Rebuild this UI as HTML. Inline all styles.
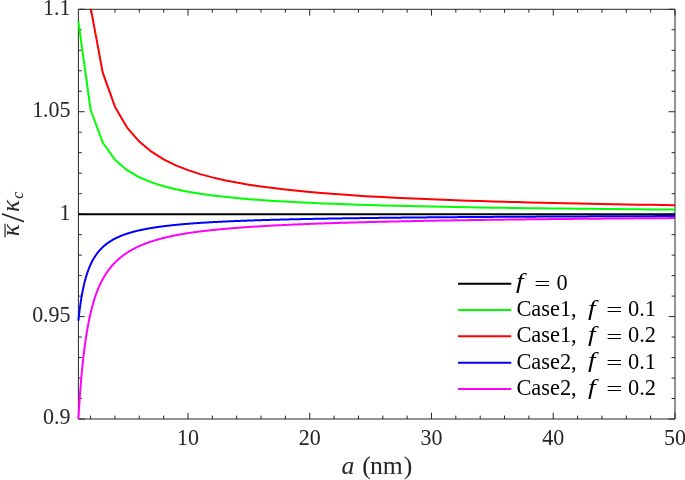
<!DOCTYPE html>
<html><head><meta charset="utf-8"><style>
html,body{margin:0;padding:0;background:#fff;}
body{width:685px;height:480px;overflow:hidden;}
svg{display:block;}
</style></head><body>
<svg width="685" height="480" viewBox="0 0 685 480"><defs><clipPath id="c"><rect x="76.4" y="8.700000000000001" width="600.60" height="412.30"/></clipPath></defs><rect width="685" height="480" fill="#fff"/><path d="M78.4,9.3H675.0V419.0H78.4ZM90.58,419.0v-3.4M90.58,9.3v3.4M114.93,419.0v-3.4M114.93,9.3v3.4M139.28,419.0v-3.4M139.28,9.3v3.4M163.63,419.0v-3.4M163.63,9.3v3.4M187.98,419.0v-6.3M187.98,9.3v6.3M212.33,419.0v-3.4M212.33,9.3v3.4M236.68,419.0v-3.4M236.68,9.3v3.4M261.03,419.0v-3.4M261.03,9.3v3.4M285.38,419.0v-3.4M285.38,9.3v3.4M309.73,419.0v-6.3M309.73,9.3v6.3M334.09,419.0v-3.4M334.09,9.3v3.4M358.44,419.0v-3.4M358.44,9.3v3.4M382.79,419.0v-3.4M382.79,9.3v3.4M407.14,419.0v-3.4M407.14,9.3v3.4M431.49,419.0v-6.3M431.49,9.3v6.3M455.84,419.0v-3.4M455.84,9.3v3.4M480.19,419.0v-3.4M480.19,9.3v3.4M504.54,419.0v-3.4M504.54,9.3v3.4M528.89,419.0v-3.4M528.89,9.3v3.4M553.24,419.0v-6.3M553.24,9.3v6.3M577.60,419.0v-3.4M577.60,9.3v3.4M601.95,419.0v-3.4M601.95,9.3v3.4M626.30,419.0v-3.4M626.30,9.3v3.4M650.65,419.0v-3.4M650.65,9.3v3.4M675.00,419.0v-6.3M675.00,9.3v6.3M78.4,419.00h6.3M675.0,419.00h-6.3M78.4,398.52h3.4M675.0,398.52h-3.4M78.4,378.03h3.4M675.0,378.03h-3.4M78.4,357.55h3.4M675.0,357.55h-3.4M78.4,337.06h3.4M675.0,337.06h-3.4M78.4,316.58h6.3M675.0,316.58h-6.3M78.4,296.09h3.4M675.0,296.09h-3.4M78.4,275.61h3.4M675.0,275.61h-3.4M78.4,255.12h3.4M675.0,255.12h-3.4M78.4,234.64h3.4M675.0,234.64h-3.4M78.4,214.15h6.3M675.0,214.15h-6.3M78.4,193.67h3.4M675.0,193.67h-3.4M78.4,173.18h3.4M675.0,173.18h-3.4M78.4,152.70h3.4M675.0,152.70h-3.4M78.4,132.21h3.4M675.0,132.21h-3.4M78.4,111.73h6.3M675.0,111.73h-6.3M78.4,91.24h3.4M675.0,91.24h-3.4M78.4,70.76h3.4M675.0,70.76h-3.4M78.4,50.27h3.4M675.0,50.27h-3.4M78.4,29.79h3.4M675.0,29.79h-3.4M78.4,9.30h6.3M675.0,9.30h-6.3" fill="none" stroke="#262626" stroke-width="1"/><g clip-path="url(#c)" fill="none" stroke-width="2.00" stroke-linejoin="round" stroke-linecap="butt"><polyline stroke="#000000" points="78.40,214.15 675.00,214.15"/><polyline stroke="#00ff00" points="78.40,21.58 90.58,109.76 102.75,142.54 114.93,159.66 127.10,170.17 139.28,177.28 151.45,182.41 163.63,186.29 175.80,189.32 187.98,191.76 200.16,193.76 212.33,195.44 224.51,196.86 236.68,198.08 248.86,199.13 261.03,200.06 273.21,200.88 285.38,201.61 297.56,202.27 309.73,202.85 321.91,203.39 334.09,203.87 346.26,204.32 358.44,204.72 370.61,205.10 382.79,205.44 394.96,205.76 407.14,206.06 419.31,206.34 431.49,206.60 443.67,206.84 455.84,207.07 468.02,207.28 480.19,207.48 492.37,207.67 504.54,207.85 516.72,208.02 528.89,208.18 541.07,208.33 553.24,208.48 565.42,208.61 577.60,208.75 589.77,208.87 601.95,208.99 614.12,209.10 626.30,209.21 638.47,209.32 650.65,209.42 662.82,209.51 675.00,209.61"/><polyline stroke="#ff0000" points="78.40,-171.18 90.58,7.21 102.75,72.70 114.93,106.70 127.10,127.53 139.28,141.59 151.45,151.72 163.63,159.37 175.80,165.35 187.98,170.16 200.16,174.10 212.33,177.39 224.51,180.18 236.68,182.58 248.86,184.67 261.03,186.49 273.21,188.10 285.38,189.54 297.56,190.82 309.73,191.98 321.91,193.03 334.09,193.98 346.26,194.85 358.44,195.65 370.61,196.38 382.79,197.06 394.96,197.69 407.14,198.28 419.31,198.82 431.49,199.33 443.67,199.81 455.84,200.25 468.02,200.67 480.19,201.07 492.37,201.44 504.54,201.79 516.72,202.12 528.89,202.44 541.07,202.74 553.24,203.02 565.42,203.29 577.60,203.55 589.77,203.79 601.95,204.03 614.12,204.25 626.30,204.47 638.47,204.67 650.65,204.87 662.82,205.06 675.00,205.24"/><polyline stroke="#0000ff" points="78.40,320.67 78.80,316.95 79.20,313.49 79.59,310.24 79.99,307.20 80.39,304.35 80.79,301.66 81.19,299.13 81.58,296.74 81.98,294.48 82.38,292.34 82.78,290.31 83.18,288.38 83.57,286.55 83.97,284.80 84.37,283.14 84.77,281.55 85.17,280.03 85.56,278.59 85.96,277.20 86.36,275.87 86.76,274.59 87.16,273.37 87.55,272.20 87.95,271.07 88.35,269.98 88.75,268.93 89.15,267.93 89.54,266.96 89.94,266.02 90.34,265.11 90.74,264.24 91.14,263.40 91.53,262.58 91.93,261.79 92.33,261.03 92.73,260.29 93.13,259.57 93.52,258.87 93.92,258.20 94.32,257.55 94.72,256.91 95.12,256.29 95.51,255.69 95.91,255.11 96.31,254.54 96.71,253.99 97.11,253.46 97.50,252.94 97.90,252.43 98.30,251.93 98.70,251.45 99.10,250.98 99.49,250.52 99.89,250.07 100.29,249.63 100.69,249.21 101.09,248.79 101.48,248.39 101.88,247.99 102.28,247.60 102.68,247.22 103.08,246.85 103.47,246.49 103.87,246.13 104.27,245.79 104.67,245.45 105.07,245.12 105.46,244.79 105.86,244.47 106.26,244.16 106.66,243.86 107.06,243.56 107.45,243.26 107.85,242.97 108.25,242.69 108.65,242.42 109.05,242.15 109.44,241.88 109.84,241.62 110.24,241.36 110.64,241.11 111.04,240.86 111.43,240.62 111.83,240.38 112.23,240.15 112.63,239.92 113.03,239.69 113.42,239.47 113.82,239.25 114.22,239.04 114.62,238.83 115.02,238.62 115.41,238.42 115.81,238.22 116.21,238.02 116.61,237.83 117.01,237.64 117.40,237.45 117.80,237.26 118.20,237.08 118.60,236.90 119.00,236.73 119.39,236.55 119.79,236.38 120.19,236.21 120.59,236.05 120.99,235.89 121.38,235.72 121.78,235.57 122.18,235.41 122.58,235.26 122.98,235.10 123.37,234.96 123.77,234.81 124.17,234.66 124.57,234.52 124.97,234.38 125.36,234.24 125.76,234.10 126.16,233.97 126.56,233.83 126.96,233.70 127.35,233.57 127.75,233.44 128.15,233.31 128.55,233.19 128.95,233.07 129.34,232.94 129.74,232.82 130.14,232.70 130.54,232.59 130.94,232.47 131.33,232.36 131.73,232.24 132.13,232.13 132.53,232.02 132.93,231.91 133.32,231.81 133.72,231.70 134.12,231.59 134.52,231.49 134.92,231.39 135.31,231.29 135.71,231.19 136.11,231.09 136.51,230.99 136.91,230.89 137.30,230.80 137.70,230.70 138.10,230.61 138.50,230.52 138.90,230.43 139.29,230.34 139.69,230.25 140.09,230.16 140.49,230.07 140.89,229.98 141.28,229.90 141.68,229.81 142.08,229.73 142.48,229.65 142.88,229.56 143.27,229.48 143.67,229.40 144.07,229.32 144.47,229.25 144.87,229.17 145.26,229.09 145.66,229.01 146.06,228.94 146.46,228.86 146.86,228.79 147.25,228.72 147.65,228.65 148.05,228.57 148.45,228.50 148.85,228.43 149.24,228.36 149.64,228.29 150.04,228.23 150.44,228.16 150.84,228.09 151.23,228.02 151.63,227.96 152.03,227.89 152.43,227.83 152.83,227.76 153.22,227.70 153.62,227.64 154.02,227.58 154.42,227.52 154.82,227.45 155.21,227.39 155.61,227.33 156.01,227.27 156.41,227.22 156.81,227.16 157.20,227.10 157.60,227.04 158.00,226.99 158.40,226.93 158.80,226.87 159.19,226.82 159.59,226.76 159.99,226.71 160.39,226.66 160.79,226.60 161.18,226.55 161.58,226.50 161.98,226.44 162.38,226.39 162.78,226.34 163.17,226.29 163.57,226.24 163.97,226.19 164.37,226.14 164.77,226.09 165.16,226.04 165.56,225.99 165.96,225.95 166.36,225.90 166.76,225.85 167.15,225.80 167.55,225.76 167.95,225.71 168.35,225.67 168.75,225.62 169.14,225.58 169.54,225.53 169.94,225.49 170.34,225.44 170.74,225.40 171.13,225.36 171.53,225.31 171.93,225.27 172.33,225.23 172.73,225.19 173.12,225.15 173.52,225.10 173.92,225.06 174.32,225.02 174.72,224.98 175.11,224.94 175.51,224.90 175.91,224.86 176.31,224.82 176.71,224.78 177.10,224.75 177.50,224.71 177.90,224.67 178.30,224.63 178.70,224.59 179.09,224.56 179.49,224.52 179.89,224.48 180.29,224.45 180.69,224.41 181.08,224.37 181.48,224.34 181.88,224.30 182.28,224.27 182.68,224.23 183.07,224.20 183.47,224.16 183.87,224.13 184.27,224.09 184.67,224.06 185.06,224.03 185.46,223.99 185.86,223.96 186.26,223.93 186.66,223.90 187.05,223.86 187.45,223.83 187.85,223.80 188.25,223.77 188.65,223.74 189.04,223.70 189.44,223.67 189.84,223.64 190.24,223.61 190.64,223.58 191.03,223.55 191.43,223.52 191.83,223.49 192.23,223.46 192.63,223.43 193.02,223.40 193.42,223.37 193.82,223.34 194.22,223.31 194.62,223.28 195.01,223.26 195.41,223.23 195.81,223.20 196.21,223.17 196.61,223.14 197.00,223.12 197.40,223.09 197.80,223.06 198.20,223.03 198.60,223.01 198.99,222.98 199.39,222.95 199.79,222.93 200.19,222.90 200.59,222.87 200.98,222.85 201.38,222.82 201.78,222.80 202.18,222.77 202.58,222.75 202.97,222.72 203.37,222.70 203.77,222.67 204.17,222.65 204.57,222.62 204.96,222.60 205.36,222.57 205.76,222.55 206.16,222.52 206.56,222.50 206.95,222.48 207.35,222.45 207.75,222.43 208.15,222.40 208.55,222.38 208.94,222.36 209.34,222.34 209.74,222.31 210.14,222.29 210.54,222.27 210.93,222.24 211.33,222.22 211.73,222.20 212.13,222.18 212.53,222.16 212.92,222.13 213.32,222.11 213.72,222.09 214.12,222.07 214.52,222.05 214.91,222.03 215.31,222.00 215.71,221.98 216.11,221.96 216.51,221.94 216.90,221.92 217.30,221.90 217.70,221.88 218.10,221.86 218.50,221.84 218.89,221.82 219.29,221.80 219.69,221.78 220.09,221.76 220.49,221.74 220.88,221.72 221.28,221.70 221.68,221.68 222.08,221.66 222.48,221.64 222.87,221.62 223.27,221.60 223.67,221.58 224.07,221.56 224.47,221.55 224.86,221.53 225.26,221.51 225.66,221.49 226.06,221.47 226.46,221.45 226.85,221.43 227.25,221.42 227.65,221.40 228.05,221.38 228.45,221.36 228.84,221.35 229.24,221.33 229.64,221.31 230.04,221.29 230.44,221.27 230.83,221.26 231.23,221.24 231.63,221.22 232.03,221.21 232.43,221.19 232.82,221.17 233.22,221.15 233.62,221.14 234.02,221.12 234.42,221.10 234.81,221.09 235.21,221.07 235.61,221.06 236.01,221.04 236.41,221.02 236.80,221.01 237.20,220.99 237.60,220.97 238.00,220.96 238.40,220.94 238.79,220.93 239.19,220.91 239.59,220.90 239.99,220.88 240.39,220.86 240.78,220.85 241.18,220.83 241.58,220.82 241.98,220.80 242.38,220.79 242.77,220.77 243.17,220.76 243.57,220.74 243.97,220.73 244.37,220.71 244.76,220.70 245.16,220.68 245.56,220.67 245.96,220.65 246.36,220.64 246.75,220.63 247.15,220.61 247.55,220.60 247.95,220.58 248.35,220.57 248.74,220.55 249.14,220.54 249.54,220.53 249.94,220.51 250.34,220.50 250.73,220.48 251.13,220.47 251.53,220.46 251.93,220.44 252.33,220.43 252.72,220.42 253.12,220.40 253.52,220.39 253.92,220.38 254.32,220.36 254.71,220.35 255.11,220.34 255.51,220.32 255.91,220.31 256.31,220.30 256.70,220.28 257.10,220.27 257.50,220.26 257.90,220.25 258.30,220.23 258.69,220.22 259.09,220.21 259.49,220.20 259.89,220.18 260.29,220.17 260.68,220.16 261.08,220.15 261.48,220.13 261.88,220.12 262.28,220.11 262.67,220.10 263.07,220.08 263.47,220.07 263.87,220.06 264.27,220.05 264.66,220.04 265.06,220.03 265.46,220.01 265.86,220.00 266.26,219.99 266.65,219.98 267.05,219.97 267.45,219.95 267.85,219.94 268.25,219.93 268.64,219.92 269.04,219.91 269.44,219.90 269.84,219.89 270.24,219.88 270.63,219.86 271.03,219.85 271.43,219.84 271.83,219.83 272.23,219.82 272.62,219.81 273.02,219.80 273.42,219.79 273.82,219.78 274.22,219.76 274.61,219.75 275.01,219.74 275.41,219.73 275.81,219.72 276.21,219.71 276.60,219.70 277.00,219.69 277.40,219.68 277.80,219.67 278.20,219.66 278.59,219.65 278.99,219.64 279.39,219.63 279.79,219.62 280.19,219.61 280.58,219.60 280.98,219.59 281.38,219.58 281.78,219.57 282.18,219.56 282.57,219.55 282.97,219.54 283.37,219.53 283.77,219.52 284.17,219.51 284.56,219.50 284.96,219.49 285.36,219.48 285.76,219.47 286.16,219.46 286.55,219.45 286.95,219.44 287.35,219.43 287.75,219.42 288.15,219.41 288.54,219.40 288.94,219.39 289.34,219.38 289.74,219.37 290.14,219.36 290.53,219.35 290.93,219.34 291.33,219.34 291.73,219.33 292.13,219.32 292.52,219.31 292.92,219.30 293.32,219.29 293.72,219.28 294.12,219.27 294.51,219.26 294.91,219.25 295.31,219.24 295.71,219.24 296.11,219.23 296.50,219.22 296.90,219.21 297.30,219.20 297.70,219.19 298.10,219.18 298.49,219.17 298.89,219.17 299.29,219.16 299.69,219.15 300.09,219.14 300.48,219.13 300.88,219.12 301.28,219.11 301.68,219.11 302.08,219.10 302.47,219.09 302.87,219.08 303.27,219.07 303.67,219.06 304.07,219.06 304.46,219.05 304.86,219.04 305.26,219.03 305.66,219.02 306.06,219.01 306.45,219.01 306.85,219.00 307.25,218.99 307.65,218.98 308.05,218.97 308.44,218.97 308.84,218.96 309.24,218.95 309.64,218.94 310.04,218.93 310.43,218.93 310.83,218.92 311.23,218.91 311.63,218.90 312.03,218.90 312.42,218.89 312.82,218.88 313.22,218.87 313.62,218.87 314.02,218.86 314.41,218.85 314.81,218.84 315.21,218.83 315.61,218.83 316.01,218.82 316.40,218.81 316.80,218.81 317.20,218.80 317.60,218.79 318.00,218.78 318.39,218.78 318.79,218.77 319.19,218.76 319.59,218.75 319.99,218.75 320.38,218.74 320.78,218.73 321.18,218.72 321.58,218.72 321.98,218.71 322.37,218.70 322.77,218.70 323.17,218.69 323.57,218.68 323.97,218.67 324.36,218.67 324.76,218.66 325.16,218.65 325.56,218.65 325.96,218.64 326.35,218.63 326.75,218.63 327.15,218.62 327.55,218.61 327.95,218.61 328.34,218.60 328.74,218.59 329.14,218.59 329.54,218.58 329.94,218.57 330.33,218.57 330.73,218.56 331.13,218.55 331.53,218.55 331.93,218.54 332.32,218.53 332.72,218.53 333.12,218.52 333.52,218.51 333.92,218.51 334.31,218.50 334.71,218.49 335.11,218.49 335.51,218.48 335.91,218.47 336.30,218.47 336.70,218.46 337.10,218.45 337.50,218.45 337.90,218.44 338.29,218.44 338.69,218.43 339.09,218.42 339.49,218.42 339.89,218.41 340.28,218.40 340.68,218.40 341.08,218.39 341.48,218.39 341.88,218.38 342.27,218.37 342.67,218.37 343.07,218.36 343.47,218.36 343.87,218.35 344.26,218.34 344.66,218.34 345.06,218.33 345.46,218.32 345.86,218.32 346.25,218.31 346.65,218.31 347.05,218.30 347.45,218.30 347.85,218.29 348.24,218.28 348.64,218.28 349.04,218.27 349.44,218.27 349.84,218.26 350.23,218.25 350.63,218.25 351.03,218.24 351.43,218.24 351.83,218.23 352.22,218.23 352.62,218.22 353.02,218.21 353.42,218.21 353.82,218.20 354.21,218.20 354.61,218.19 355.01,218.19 355.41,218.18 355.81,218.17 356.20,218.17 356.60,218.16 357.00,218.16 357.40,218.15 357.80,218.15 358.19,218.14 358.59,218.14 358.99,218.13 359.39,218.13 359.79,218.12 360.18,218.11 360.58,218.11 360.98,218.10 361.38,218.10 361.78,218.09 362.17,218.09 362.57,218.08 362.97,218.08 363.37,218.07 363.77,218.07 364.16,218.06 364.56,218.06 364.96,218.05 365.36,218.05 365.76,218.04 366.15,218.04 366.55,218.03 366.95,218.03 367.35,218.02 367.75,218.01 368.14,218.01 368.54,218.00 368.94,218.00 369.34,217.99 369.74,217.99 370.13,217.98 370.53,217.98 370.93,217.97 371.33,217.97 371.73,217.96 372.12,217.96 372.52,217.95 372.92,217.95 373.32,217.94 373.72,217.94 374.11,217.93 374.51,217.93 374.91,217.92 375.31,217.92 375.71,217.91 376.10,217.91 376.50,217.91 376.90,217.90 377.30,217.90 377.69,217.89 378.09,217.89 378.49,217.88 378.89,217.88 379.29,217.87 379.68,217.87 380.08,217.86 380.48,217.86 380.88,217.85 381.28,217.85 381.67,217.84 382.07,217.84 382.47,217.83 382.87,217.83 383.27,217.82 383.66,217.82 384.06,217.82 384.46,217.81 384.86,217.81 385.26,217.80 385.65,217.80 386.05,217.79 386.45,217.79 386.85,217.78 387.25,217.78 387.64,217.77 388.04,217.77 388.44,217.77 388.84,217.76 389.24,217.76 389.63,217.75 390.03,217.75 390.43,217.74 390.83,217.74 391.23,217.73 391.62,217.73 392.02,217.73 392.42,217.72 392.82,217.72 393.22,217.71 393.61,217.71 394.01,217.70 394.41,217.70 394.81,217.70 395.21,217.69 395.60,217.69 396.00,217.68 396.40,217.68 396.80,217.67 397.20,217.67 397.59,217.67 397.99,217.66 398.39,217.66 398.79,217.65 399.19,217.65 399.58,217.64 399.98,217.64 400.38,217.64 400.78,217.63 401.18,217.63 401.57,217.62 401.97,217.62 402.37,217.62 402.77,217.61 403.17,217.61 403.56,217.60 403.96,217.60 404.36,217.59 404.76,217.59 405.16,217.59 405.55,217.58 405.95,217.58 406.35,217.57 406.75,217.57 407.15,217.57 407.54,217.56 407.94,217.56 408.34,217.55 408.74,217.55 409.14,217.55 409.53,217.54 409.93,217.54 410.33,217.53 410.73,217.53 411.13,217.53 411.52,217.52 411.92,217.52 412.32,217.51 412.72,217.51 413.12,217.51 413.51,217.50 413.91,217.50 414.31,217.50 414.71,217.49 415.11,217.49 415.50,217.48 415.90,217.48 416.30,217.48 416.70,217.47 417.10,217.47 417.49,217.47 417.89,217.46 418.29,217.46 418.69,217.45 419.09,217.45 419.48,217.45 419.88,217.44 420.28,217.44 420.68,217.44 421.08,217.43 421.47,217.43 421.87,217.42 422.27,217.42 422.67,217.42 423.07,217.41 423.46,217.41 423.86,217.41 424.26,217.40 424.66,217.40 425.06,217.40 425.45,217.39 425.85,217.39 426.25,217.38 426.65,217.38 427.05,217.38 427.44,217.37 427.84,217.37 428.24,217.37 428.64,217.36 429.04,217.36 429.43,217.36 429.83,217.35 430.23,217.35 430.63,217.35 431.03,217.34 431.42,217.34 431.82,217.33 432.22,217.33 432.62,217.33 433.02,217.32 433.41,217.32 433.81,217.32 434.21,217.31 434.61,217.31 435.01,217.31 435.40,217.30 435.80,217.30 436.20,217.30 436.60,217.29 437.00,217.29 437.39,217.29 437.79,217.28 438.19,217.28 438.59,217.28 438.99,217.27 439.38,217.27 439.78,217.27 440.18,217.26 440.58,217.26 440.98,217.26 441.37,217.25 441.77,217.25 442.17,217.25 442.57,217.24 442.97,217.24 443.36,217.24 443.76,217.23 444.16,217.23 444.56,217.23 444.96,217.22 445.35,217.22 445.75,217.22 446.15,217.21 446.55,217.21 446.95,217.21 447.34,217.20 447.74,217.20 448.14,217.20 448.54,217.20 448.94,217.19 449.33,217.19 449.73,217.19 450.13,217.18 450.53,217.18 450.93,217.18 451.32,217.17 451.72,217.17 452.12,217.17 452.52,217.16 452.92,217.16 453.31,217.16 453.71,217.15 454.11,217.15 454.51,217.15 454.91,217.14 455.30,217.14 455.70,217.14 456.10,217.14 456.50,217.13 456.90,217.13 457.29,217.13 457.69,217.12 458.09,217.12 458.49,217.12 458.89,217.11 459.28,217.11 459.68,217.11 460.08,217.11 460.48,217.10 460.88,217.10 461.27,217.10 461.67,217.09 462.07,217.09 462.47,217.09 462.87,217.08 463.26,217.08 463.66,217.08 464.06,217.08 464.46,217.07 464.86,217.07 465.25,217.07 465.65,217.06 466.05,217.06 466.45,217.06 466.85,217.06 467.24,217.05 467.64,217.05 468.04,217.05 468.44,217.04 468.84,217.04 469.23,217.04 469.63,217.04 470.03,217.03 470.43,217.03 470.83,217.03 471.22,217.02 471.62,217.02 472.02,217.02 472.42,217.02 472.82,217.01 473.21,217.01 473.61,217.01 474.01,217.00 474.41,217.00 474.81,217.00 475.20,217.00 475.60,216.99 476.00,216.99 476.40,216.99 476.80,216.98 477.19,216.98 477.59,216.98 477.99,216.98 478.39,216.97 478.79,216.97 479.18,216.97 479.58,216.97 479.98,216.96 480.38,216.96 480.78,216.96 481.17,216.95 481.57,216.95 481.97,216.95 482.37,216.95 482.77,216.94 483.16,216.94 483.56,216.94 483.96,216.94 484.36,216.93 484.76,216.93 485.15,216.93 485.55,216.93 485.95,216.92 486.35,216.92 486.75,216.92 487.14,216.91 487.54,216.91 487.94,216.91 488.34,216.91 488.74,216.90 489.13,216.90 489.53,216.90 489.93,216.90 490.33,216.89 490.73,216.89 491.12,216.89 491.52,216.89 491.92,216.88 492.32,216.88 492.72,216.88 493.11,216.88 493.51,216.87 493.91,216.87 494.31,216.87 494.71,216.87 495.10,216.86 495.50,216.86 495.90,216.86 496.30,216.86 496.70,216.85 497.09,216.85 497.49,216.85 497.89,216.85 498.29,216.84 498.69,216.84 499.08,216.84 499.48,216.84 499.88,216.83 500.28,216.83 500.68,216.83 501.07,216.83 501.47,216.82 501.87,216.82 502.27,216.82 502.67,216.82 503.06,216.81 503.46,216.81 503.86,216.81 504.26,216.81 504.66,216.80 505.05,216.80 505.45,216.80 505.85,216.80 506.25,216.79 506.65,216.79 507.04,216.79 507.44,216.79 507.84,216.78 508.24,216.78 508.64,216.78 509.03,216.78 509.43,216.78 509.83,216.77 510.23,216.77 510.63,216.77 511.02,216.77 511.42,216.76 511.82,216.76 512.22,216.76 512.62,216.76 513.01,216.75 513.41,216.75 513.81,216.75 514.21,216.75 514.61,216.74 515.00,216.74 515.40,216.74 515.80,216.74 516.20,216.74 516.60,216.73 516.99,216.73 517.39,216.73 517.79,216.73 518.19,216.72 518.59,216.72 518.98,216.72 519.38,216.72 519.78,216.72 520.18,216.71 520.58,216.71 520.97,216.71 521.37,216.71 521.77,216.70 522.17,216.70 522.57,216.70 522.96,216.70 523.36,216.70 523.76,216.69 524.16,216.69 524.56,216.69 524.95,216.69 525.35,216.68 525.75,216.68 526.15,216.68 526.55,216.68 526.94,216.68 527.34,216.67 527.74,216.67 528.14,216.67 528.54,216.67 528.93,216.66 529.33,216.66 529.73,216.66 530.13,216.66 530.53,216.66 530.92,216.65 531.32,216.65 531.72,216.65 532.12,216.65 532.52,216.64 532.91,216.64 533.31,216.64 533.71,216.64 534.11,216.64 534.51,216.63 534.90,216.63 535.30,216.63 535.70,216.63 536.10,216.63 536.50,216.62 536.89,216.62 537.29,216.62 537.69,216.62 538.09,216.62 538.49,216.61 538.88,216.61 539.28,216.61 539.68,216.61 540.08,216.60 540.48,216.60 540.87,216.60 541.27,216.60 541.67,216.60 542.07,216.59 542.47,216.59 542.86,216.59 543.26,216.59 543.66,216.59 544.06,216.58 544.46,216.58 544.85,216.58 545.25,216.58 545.65,216.58 546.05,216.57 546.45,216.57 546.84,216.57 547.24,216.57 547.64,216.57 548.04,216.56 548.44,216.56 548.83,216.56 549.23,216.56 549.63,216.56 550.03,216.55 550.43,216.55 550.82,216.55 551.22,216.55 551.62,216.55 552.02,216.54 552.42,216.54 552.81,216.54 553.21,216.54 553.61,216.54 554.01,216.53 554.41,216.53 554.80,216.53 555.20,216.53 555.60,216.53 556.00,216.52 556.40,216.52 556.79,216.52 557.19,216.52 557.59,216.52 557.99,216.52 558.39,216.51 558.78,216.51 559.18,216.51 559.58,216.51 559.98,216.51 560.38,216.50 560.77,216.50 561.17,216.50 561.57,216.50 561.97,216.50 562.37,216.49 562.76,216.49 563.16,216.49 563.56,216.49 563.96,216.49 564.36,216.48 564.75,216.48 565.15,216.48 565.55,216.48 565.95,216.48 566.35,216.48 566.74,216.47 567.14,216.47 567.54,216.47 567.94,216.47 568.34,216.47 568.73,216.46 569.13,216.46 569.53,216.46 569.93,216.46 570.33,216.46 570.72,216.46 571.12,216.45 571.52,216.45 571.92,216.45 572.32,216.45 572.71,216.45 573.11,216.44 573.51,216.44 573.91,216.44 574.31,216.44 574.70,216.44 575.10,216.44 575.50,216.43 575.90,216.43 576.30,216.43 576.69,216.43 577.09,216.43 577.49,216.42 577.89,216.42 578.29,216.42 578.68,216.42 579.08,216.42 579.48,216.42 579.88,216.41 580.28,216.41 580.67,216.41 581.07,216.41 581.47,216.41 581.87,216.41 582.27,216.40 582.66,216.40 583.06,216.40 583.46,216.40 583.86,216.40 584.26,216.40 584.65,216.39 585.05,216.39 585.45,216.39 585.85,216.39 586.25,216.39 586.64,216.38 587.04,216.38 587.44,216.38 587.84,216.38 588.24,216.38 588.63,216.38 589.03,216.37 589.43,216.37 589.83,216.37 590.23,216.37 590.62,216.37 591.02,216.37 591.42,216.36 591.82,216.36 592.22,216.36 592.61,216.36 593.01,216.36 593.41,216.36 593.81,216.35 594.21,216.35 594.60,216.35 595.00,216.35 595.40,216.35 595.80,216.35 596.20,216.34 596.59,216.34 596.99,216.34 597.39,216.34 597.79,216.34 598.19,216.34 598.58,216.33 598.98,216.33 599.38,216.33 599.78,216.33 600.18,216.33 600.57,216.33 600.97,216.32 601.37,216.32 601.77,216.32 602.17,216.32 602.56,216.32 602.96,216.32 603.36,216.31 603.76,216.31 604.16,216.31 604.55,216.31 604.95,216.31 605.35,216.31 605.75,216.31 606.15,216.30 606.54,216.30 606.94,216.30 607.34,216.30 607.74,216.30 608.14,216.30 608.53,216.29 608.93,216.29 609.33,216.29 609.73,216.29 610.13,216.29 610.52,216.29 610.92,216.28 611.32,216.28 611.72,216.28 612.12,216.28 612.51,216.28 612.91,216.28 613.31,216.28 613.71,216.27 614.11,216.27 614.50,216.27 614.90,216.27 615.30,216.27 615.70,216.27 616.10,216.26 616.49,216.26 616.89,216.26 617.29,216.26 617.69,216.26 618.09,216.26 618.48,216.26 618.88,216.25 619.28,216.25 619.68,216.25 620.08,216.25 620.47,216.25 620.87,216.25 621.27,216.24 621.67,216.24 622.07,216.24 622.46,216.24 622.86,216.24 623.26,216.24 623.66,216.24 624.06,216.23 624.45,216.23 624.85,216.23 625.25,216.23 625.65,216.23 626.05,216.23 626.44,216.23 626.84,216.22 627.24,216.22 627.64,216.22 628.04,216.22 628.43,216.22 628.83,216.22 629.23,216.22 629.63,216.21 630.03,216.21 630.42,216.21 630.82,216.21 631.22,216.21 631.62,216.21 632.02,216.21 632.41,216.20 632.81,216.20 633.21,216.20 633.61,216.20 634.01,216.20 634.40,216.20 634.80,216.19 635.20,216.19 635.60,216.19 636.00,216.19 636.39,216.19 636.79,216.19 637.19,216.19 637.59,216.18 637.99,216.18 638.38,216.18 638.78,216.18 639.18,216.18 639.58,216.18 639.98,216.18 640.37,216.18 640.77,216.17 641.17,216.17 641.57,216.17 641.97,216.17 642.36,216.17 642.76,216.17 643.16,216.17 643.56,216.16 643.96,216.16 644.35,216.16 644.75,216.16 645.15,216.16 645.55,216.16 645.95,216.16 646.34,216.15 646.74,216.15 647.14,216.15 647.54,216.15 647.94,216.15 648.33,216.15 648.73,216.15 649.13,216.14 649.53,216.14 649.93,216.14 650.32,216.14 650.72,216.14 651.12,216.14 651.52,216.14 651.92,216.14 652.31,216.13 652.71,216.13 653.11,216.13 653.51,216.13 653.91,216.13 654.30,216.13 654.70,216.13 655.10,216.12 655.50,216.12 655.90,216.12 656.29,216.12 656.69,216.12 657.09,216.12 657.49,216.12 657.89,216.11 658.28,216.11 658.68,216.11 659.08,216.11 659.48,216.11 659.88,216.11 660.27,216.11 660.67,216.11 661.07,216.10 661.47,216.10 661.87,216.10 662.26,216.10 662.66,216.10 663.06,216.10 663.46,216.10 663.86,216.10 664.25,216.09 664.65,216.09 665.05,216.09 665.45,216.09 665.85,216.09 666.24,216.09 666.64,216.09 667.04,216.08 667.44,216.08 667.84,216.08 668.23,216.08 668.63,216.08 669.03,216.08 669.43,216.08 669.83,216.08 670.22,216.07 670.62,216.07 671.02,216.07 671.42,216.07 671.82,216.07 672.21,216.07 672.61,216.07 673.01,216.07 673.41,216.06 673.81,216.06 674.20,216.06 674.60,216.06 675.00,216.06"/><polyline stroke="#ff00ff" points="78.40,419.00 78.80,412.22 79.20,405.86 79.59,399.88 79.99,394.26 80.39,388.97 80.79,383.97 81.19,379.24 81.58,374.76 81.98,370.51 82.38,366.48 82.78,362.64 83.18,358.99 83.57,355.51 83.97,352.19 84.37,349.02 84.77,345.99 85.17,343.09 85.56,340.31 85.96,337.64 86.36,335.08 86.76,332.63 87.16,330.27 87.55,328.00 87.95,325.81 88.35,323.71 88.75,321.68 89.15,319.72 89.54,317.83 89.94,316.01 90.34,314.25 90.74,312.54 91.14,310.90 91.53,309.30 91.93,307.76 92.33,306.26 92.73,304.81 93.13,303.40 93.52,302.04 93.92,300.71 94.32,299.43 94.72,298.18 95.12,296.97 95.51,295.78 95.91,294.64 96.31,293.52 96.71,292.43 97.11,291.38 97.50,290.34 97.90,289.34 98.30,288.39 98.70,287.46 99.10,286.55 99.49,285.66 99.89,284.80 100.29,283.95 100.69,283.13 101.09,282.32 101.48,281.53 101.88,280.76 102.28,280.01 102.68,279.28 103.08,278.56 103.47,277.85 103.87,277.16 104.27,276.49 104.67,275.83 105.07,275.18 105.46,274.55 105.86,273.93 106.26,273.32 106.66,272.72 107.06,272.14 107.45,271.57 107.85,271.00 108.25,270.45 108.65,269.91 109.05,269.38 109.44,268.86 109.84,268.35 110.24,267.85 110.64,267.36 111.04,266.87 111.43,266.40 111.83,265.93 112.23,265.47 112.63,265.02 113.03,264.58 113.42,264.14 113.82,263.72 114.22,263.30 114.62,262.88 115.02,262.48 115.41,262.08 115.81,261.68 116.21,261.29 116.61,260.91 117.01,260.54 117.40,260.17 117.80,259.81 118.20,259.45 118.60,259.10 119.00,258.75 119.39,258.41 119.79,258.07 120.19,257.74 120.59,257.41 120.99,257.09 121.38,256.77 121.78,256.46 122.18,256.15 122.58,255.85 122.98,255.55 123.37,255.25 123.77,254.96 124.17,254.68 124.57,254.39 124.97,254.11 125.36,253.84 125.76,253.57 126.16,253.30 126.56,253.04 126.96,252.77 127.35,252.52 127.75,252.26 128.15,252.01 128.55,251.76 128.95,251.52 129.34,251.28 129.74,251.04 130.14,250.81 130.54,250.57 130.94,250.34 131.33,250.12 131.73,249.89 132.13,249.67 132.53,249.46 132.93,249.24 133.32,249.03 133.72,248.82 134.12,248.61 134.52,248.40 134.92,248.20 135.31,248.00 135.71,247.80 136.11,247.60 136.51,247.41 136.91,247.22 137.30,247.03 137.70,246.84 138.10,246.66 138.50,246.47 138.90,246.29 139.29,246.11 139.69,245.93 140.09,245.76 140.49,245.59 140.89,245.41 141.28,245.24 141.68,245.08 142.08,244.91 142.48,244.75 142.88,244.58 143.27,244.42 143.67,244.26 144.07,244.11 144.47,243.95 144.87,243.80 145.26,243.64 145.66,243.49 146.06,243.34 146.46,243.19 146.86,243.05 147.25,242.90 147.65,242.76 148.05,242.62 148.45,242.47 148.85,242.33 149.24,242.20 149.64,242.06 150.04,241.92 150.44,241.79 150.84,241.66 151.23,241.52 151.63,241.39 152.03,241.26 152.43,241.14 152.83,241.01 153.22,240.88 153.62,240.76 154.02,240.63 154.42,240.51 154.82,240.39 155.21,240.27 155.61,240.15 156.01,240.03 156.41,239.92 156.81,239.80 157.20,239.69 157.60,239.57 158.00,239.46 158.40,239.35 158.80,239.24 159.19,239.13 159.59,239.02 159.99,238.91 160.39,238.80 160.79,238.70 161.18,238.59 161.58,238.49 161.98,238.38 162.38,238.28 162.78,238.18 163.17,238.08 163.57,237.98 163.97,237.88 164.37,237.78 164.77,237.68 165.16,237.58 165.56,237.49 165.96,237.39 166.36,237.30 166.76,237.20 167.15,237.11 167.55,237.02 167.95,236.93 168.35,236.84 168.75,236.75 169.14,236.66 169.54,236.57 169.94,236.48 170.34,236.39 170.74,236.31 171.13,236.22 171.53,236.13 171.93,236.05 172.33,235.97 172.73,235.88 173.12,235.80 173.52,235.72 173.92,235.64 174.32,235.55 174.72,235.47 175.11,235.39 175.51,235.32 175.91,235.24 176.31,235.16 176.71,235.08 177.10,235.00 177.50,234.93 177.90,234.85 178.30,234.78 178.70,234.70 179.09,234.63 179.49,234.55 179.89,234.48 180.29,234.41 180.69,234.34 181.08,234.26 181.48,234.19 181.88,234.12 182.28,234.05 182.68,233.98 183.07,233.91 183.47,233.85 183.87,233.78 184.27,233.71 184.67,233.64 185.06,233.57 185.46,233.51 185.86,233.44 186.26,233.38 186.66,233.31 187.05,233.25 187.45,233.18 187.85,233.12 188.25,233.06 188.65,233.00 189.04,232.94 189.44,232.88 189.84,232.83 190.24,232.77 190.64,232.71 191.03,232.65 191.43,232.60 191.83,232.54 192.23,232.49 192.63,232.43 193.02,232.38 193.42,232.32 193.82,232.27 194.22,232.21 194.62,232.16 195.01,232.11 195.41,232.05 195.81,232.00 196.21,231.95 196.61,231.90 197.00,231.84 197.40,231.79 197.80,231.74 198.20,231.69 198.60,231.64 198.99,231.59 199.39,231.54 199.79,231.49 200.19,231.44 200.59,231.39 200.98,231.34 201.38,231.29 201.78,231.25 202.18,231.20 202.58,231.15 202.97,231.10 203.37,231.06 203.77,231.01 204.17,230.96 204.57,230.92 204.96,230.87 205.36,230.82 205.76,230.78 206.16,230.73 206.56,230.69 206.95,230.64 207.35,230.60 207.75,230.55 208.15,230.51 208.55,230.47 208.94,230.42 209.34,230.38 209.74,230.34 210.14,230.29 210.54,230.25 210.93,230.21 211.33,230.17 211.73,230.12 212.13,230.08 212.53,230.04 212.92,230.00 213.32,229.96 213.72,229.92 214.12,229.88 214.52,229.84 214.91,229.80 215.31,229.76 215.71,229.72 216.11,229.68 216.51,229.64 216.90,229.60 217.30,229.56 217.70,229.52 218.10,229.48 218.50,229.44 218.89,229.41 219.29,229.37 219.69,229.33 220.09,229.29 220.49,229.25 220.88,229.22 221.28,229.18 221.68,229.14 222.08,229.11 222.48,229.07 222.87,229.03 223.27,229.00 223.67,228.96 224.07,228.93 224.47,228.89 224.86,228.85 225.26,228.82 225.66,228.78 226.06,228.75 226.46,228.71 226.85,228.68 227.25,228.65 227.65,228.61 228.05,228.58 228.45,228.54 228.84,228.51 229.24,228.48 229.64,228.44 230.04,228.41 230.44,228.38 230.83,228.34 231.23,228.31 231.63,228.28 232.03,228.25 232.43,228.21 232.82,228.18 233.22,228.15 233.62,228.12 234.02,228.08 234.42,228.05 234.81,228.02 235.21,227.99 235.61,227.96 236.01,227.93 236.41,227.90 236.80,227.87 237.20,227.84 237.60,227.81 238.00,227.78 238.40,227.74 238.79,227.71 239.19,227.69 239.59,227.66 239.99,227.63 240.39,227.60 240.78,227.57 241.18,227.54 241.58,227.51 241.98,227.48 242.38,227.45 242.77,227.42 243.17,227.39 243.57,227.36 243.97,227.34 244.37,227.31 244.76,227.28 245.16,227.25 245.56,227.22 245.96,227.20 246.36,227.17 246.75,227.14 247.15,227.11 247.55,227.09 247.95,227.06 248.35,227.03 248.74,227.01 249.14,226.98 249.54,226.95 249.94,226.93 250.34,226.90 250.73,226.87 251.13,226.85 251.53,226.82 251.93,226.79 252.33,226.77 252.72,226.74 253.12,226.72 253.52,226.69 253.92,226.67 254.32,226.64 254.71,226.61 255.11,226.59 255.51,226.56 255.91,226.54 256.31,226.51 256.70,226.49 257.10,226.47 257.50,226.44 257.90,226.42 258.30,226.39 258.69,226.37 259.09,226.34 259.49,226.32 259.89,226.30 260.29,226.27 260.68,226.25 261.08,226.22 261.48,226.20 261.88,226.18 262.28,226.15 262.67,226.13 263.07,226.11 263.47,226.08 263.87,226.06 264.27,226.04 264.66,226.01 265.06,225.99 265.46,225.97 265.86,225.95 266.26,225.92 266.65,225.90 267.05,225.88 267.45,225.86 267.85,225.84 268.25,225.81 268.64,225.79 269.04,225.77 269.44,225.75 269.84,225.73 270.24,225.70 270.63,225.68 271.03,225.66 271.43,225.64 271.83,225.62 272.23,225.60 272.62,225.58 273.02,225.55 273.42,225.53 273.82,225.51 274.22,225.49 274.61,225.47 275.01,225.45 275.41,225.43 275.81,225.41 276.21,225.39 276.60,225.37 277.00,225.35 277.40,225.33 277.80,225.31 278.20,225.29 278.59,225.27 278.99,225.25 279.39,225.23 279.79,225.21 280.19,225.19 280.58,225.17 280.98,225.15 281.38,225.13 281.78,225.11 282.18,225.09 282.57,225.07 282.97,225.05 283.37,225.03 283.77,225.01 284.17,224.99 284.56,224.98 284.96,224.96 285.36,224.94 285.76,224.92 286.16,224.90 286.55,224.88 286.95,224.86 287.35,224.84 287.75,224.83 288.15,224.81 288.54,224.79 288.94,224.77 289.34,224.75 289.74,224.74 290.14,224.72 290.53,224.70 290.93,224.68 291.33,224.66 291.73,224.65 292.13,224.63 292.52,224.61 292.92,224.59 293.32,224.58 293.72,224.56 294.12,224.54 294.51,224.52 294.91,224.51 295.31,224.49 295.71,224.47 296.11,224.45 296.50,224.44 296.90,224.42 297.30,224.40 297.70,224.39 298.10,224.37 298.49,224.35 298.89,224.34 299.29,224.32 299.69,224.30 300.09,224.29 300.48,224.27 300.88,224.25 301.28,224.24 301.68,224.22 302.08,224.20 302.47,224.19 302.87,224.17 303.27,224.16 303.67,224.14 304.07,224.12 304.46,224.11 304.86,224.09 305.26,224.08 305.66,224.06 306.06,224.04 306.45,224.03 306.85,224.01 307.25,224.00 307.65,223.98 308.05,223.97 308.44,223.95 308.84,223.93 309.24,223.92 309.64,223.90 310.04,223.89 310.43,223.87 310.83,223.86 311.23,223.84 311.63,223.83 312.03,223.81 312.42,223.80 312.82,223.78 313.22,223.77 313.62,223.75 314.02,223.74 314.41,223.72 314.81,223.71 315.21,223.69 315.61,223.68 316.01,223.67 316.40,223.65 316.80,223.64 317.20,223.62 317.60,223.61 318.00,223.59 318.39,223.58 318.79,223.56 319.19,223.55 319.59,223.54 319.99,223.52 320.38,223.51 320.78,223.49 321.18,223.48 321.58,223.47 321.98,223.45 322.37,223.44 322.77,223.42 323.17,223.41 323.57,223.40 323.97,223.38 324.36,223.37 324.76,223.36 325.16,223.34 325.56,223.33 325.96,223.32 326.35,223.30 326.75,223.29 327.15,223.28 327.55,223.26 327.95,223.25 328.34,223.24 328.74,223.22 329.14,223.21 329.54,223.20 329.94,223.18 330.33,223.17 330.73,223.16 331.13,223.14 331.53,223.13 331.93,223.12 332.32,223.10 332.72,223.09 333.12,223.08 333.52,223.07 333.92,223.05 334.31,223.04 334.71,223.03 335.11,223.02 335.51,223.00 335.91,222.99 336.30,222.98 336.70,222.97 337.10,222.95 337.50,222.94 337.90,222.93 338.29,222.92 338.69,222.90 339.09,222.89 339.49,222.88 339.89,222.87 340.28,222.86 340.68,222.84 341.08,222.83 341.48,222.82 341.88,222.81 342.27,222.79 342.67,222.78 343.07,222.77 343.47,222.76 343.87,222.75 344.26,222.74 344.66,222.72 345.06,222.71 345.46,222.70 345.86,222.69 346.25,222.68 346.65,222.67 347.05,222.65 347.45,222.64 347.85,222.63 348.24,222.62 348.64,222.61 349.04,222.60 349.44,222.58 349.84,222.57 350.23,222.56 350.63,222.55 351.03,222.54 351.43,222.53 351.83,222.52 352.22,222.51 352.62,222.49 353.02,222.48 353.42,222.47 353.82,222.46 354.21,222.45 354.61,222.44 355.01,222.43 355.41,222.42 355.81,222.41 356.20,222.40 356.60,222.39 357.00,222.37 357.40,222.36 357.80,222.35 358.19,222.34 358.59,222.33 358.99,222.32 359.39,222.31 359.79,222.30 360.18,222.29 360.58,222.28 360.98,222.27 361.38,222.26 361.78,222.25 362.17,222.24 362.57,222.23 362.97,222.22 363.37,222.21 363.77,222.19 364.16,222.18 364.56,222.17 364.96,222.16 365.36,222.15 365.76,222.14 366.15,222.13 366.55,222.12 366.95,222.11 367.35,222.10 367.75,222.09 368.14,222.08 368.54,222.07 368.94,222.06 369.34,222.05 369.74,222.04 370.13,222.03 370.53,222.02 370.93,222.01 371.33,222.00 371.73,221.99 372.12,221.98 372.52,221.97 372.92,221.96 373.32,221.95 373.72,221.94 374.11,221.94 374.51,221.93 374.91,221.92 375.31,221.91 375.71,221.90 376.10,221.89 376.50,221.88 376.90,221.87 377.30,221.86 377.69,221.85 378.09,221.84 378.49,221.83 378.89,221.82 379.29,221.81 379.68,221.80 380.08,221.79 380.48,221.78 380.88,221.77 381.28,221.77 381.67,221.76 382.07,221.75 382.47,221.74 382.87,221.73 383.27,221.72 383.66,221.71 384.06,221.70 384.46,221.69 384.86,221.68 385.26,221.67 385.65,221.67 386.05,221.66 386.45,221.65 386.85,221.64 387.25,221.63 387.64,221.62 388.04,221.61 388.44,221.60 388.84,221.59 389.24,221.59 389.63,221.58 390.03,221.57 390.43,221.56 390.83,221.55 391.23,221.54 391.62,221.53 392.02,221.52 392.42,221.52 392.82,221.51 393.22,221.50 393.61,221.49 394.01,221.48 394.41,221.47 394.81,221.46 395.21,221.46 395.60,221.45 396.00,221.44 396.40,221.43 396.80,221.42 397.20,221.41 397.59,221.41 397.99,221.40 398.39,221.39 398.79,221.38 399.19,221.37 399.58,221.36 399.98,221.36 400.38,221.35 400.78,221.34 401.18,221.33 401.57,221.32 401.97,221.31 402.37,221.31 402.77,221.30 403.17,221.29 403.56,221.28 403.96,221.27 404.36,221.27 404.76,221.26 405.16,221.25 405.55,221.24 405.95,221.23 406.35,221.23 406.75,221.22 407.15,221.21 407.54,221.20 407.94,221.19 408.34,221.18 408.74,221.18 409.14,221.17 409.53,221.16 409.93,221.15 410.33,221.14 410.73,221.14 411.13,221.13 411.52,221.12 411.92,221.11 412.32,221.10 412.72,221.10 413.12,221.09 413.51,221.08 413.91,221.07 414.31,221.06 414.71,221.06 415.11,221.05 415.50,221.04 415.90,221.03 416.30,221.02 416.70,221.02 417.10,221.01 417.49,221.00 417.89,220.99 418.29,220.98 418.69,220.98 419.09,220.97 419.48,220.96 419.88,220.95 420.28,220.95 420.68,220.94 421.08,220.93 421.47,220.92 421.87,220.91 422.27,220.91 422.67,220.90 423.07,220.89 423.46,220.88 423.86,220.88 424.26,220.87 424.66,220.86 425.06,220.85 425.45,220.85 425.85,220.84 426.25,220.83 426.65,220.82 427.05,220.82 427.44,220.81 427.84,220.80 428.24,220.79 428.64,220.79 429.04,220.78 429.43,220.77 429.83,220.77 430.23,220.76 430.63,220.75 431.03,220.74 431.42,220.74 431.82,220.73 432.22,220.72 432.62,220.71 433.02,220.71 433.41,220.70 433.81,220.69 434.21,220.69 434.61,220.68 435.01,220.67 435.40,220.66 435.80,220.66 436.20,220.65 436.60,220.64 437.00,220.64 437.39,220.63 437.79,220.62 438.19,220.62 438.59,220.61 438.99,220.60 439.38,220.59 439.78,220.59 440.18,220.58 440.58,220.57 440.98,220.57 441.37,220.56 441.77,220.55 442.17,220.55 442.57,220.54 442.97,220.53 443.36,220.53 443.76,220.52 444.16,220.51 444.56,220.51 444.96,220.50 445.35,220.49 445.75,220.49 446.15,220.48 446.55,220.47 446.95,220.47 447.34,220.46 447.74,220.45 448.14,220.45 448.54,220.44 448.94,220.43 449.33,220.43 449.73,220.42 450.13,220.41 450.53,220.41 450.93,220.40 451.32,220.39 451.72,220.39 452.12,220.38 452.52,220.37 452.92,220.37 453.31,220.36 453.71,220.35 454.11,220.35 454.51,220.34 454.91,220.34 455.30,220.33 455.70,220.32 456.10,220.32 456.50,220.31 456.90,220.30 457.29,220.30 457.69,220.29 458.09,220.28 458.49,220.28 458.89,220.27 459.28,220.27 459.68,220.26 460.08,220.25 460.48,220.25 460.88,220.24 461.27,220.23 461.67,220.23 462.07,220.22 462.47,220.22 462.87,220.21 463.26,220.20 463.66,220.20 464.06,220.19 464.46,220.19 464.86,220.18 465.25,220.17 465.65,220.17 466.05,220.16 466.45,220.16 466.85,220.15 467.24,220.14 467.64,220.14 468.04,220.13 468.44,220.13 468.84,220.12 469.23,220.11 469.63,220.11 470.03,220.10 470.43,220.10 470.83,220.09 471.22,220.08 471.62,220.08 472.02,220.07 472.42,220.07 472.82,220.06 473.21,220.05 473.61,220.05 474.01,220.04 474.41,220.04 474.81,220.03 475.20,220.03 475.60,220.02 476.00,220.01 476.40,220.01 476.80,220.00 477.19,220.00 477.59,219.99 477.99,219.99 478.39,219.98 478.79,219.97 479.18,219.97 479.58,219.96 479.98,219.96 480.38,219.95 480.78,219.95 481.17,219.94 481.57,219.93 481.97,219.93 482.37,219.92 482.77,219.92 483.16,219.91 483.56,219.91 483.96,219.90 484.36,219.90 484.76,219.89 485.15,219.88 485.55,219.88 485.95,219.87 486.35,219.87 486.75,219.86 487.14,219.86 487.54,219.85 487.94,219.85 488.34,219.84 488.74,219.84 489.13,219.83 489.53,219.82 489.93,219.82 490.33,219.81 490.73,219.81 491.12,219.80 491.52,219.80 491.92,219.79 492.32,219.79 492.72,219.78 493.11,219.78 493.51,219.77 493.91,219.77 494.31,219.76 494.71,219.76 495.10,219.75 495.50,219.75 495.90,219.74 496.30,219.73 496.70,219.73 497.09,219.72 497.49,219.72 497.89,219.71 498.29,219.71 498.69,219.70 499.08,219.70 499.48,219.69 499.88,219.69 500.28,219.68 500.68,219.68 501.07,219.67 501.47,219.67 501.87,219.66 502.27,219.66 502.67,219.65 503.06,219.65 503.46,219.64 503.86,219.64 504.26,219.63 504.66,219.63 505.05,219.62 505.45,219.62 505.85,219.61 506.25,219.61 506.65,219.60 507.04,219.60 507.44,219.59 507.84,219.59 508.24,219.58 508.64,219.58 509.03,219.57 509.43,219.57 509.83,219.56 510.23,219.56 510.63,219.55 511.02,219.55 511.42,219.54 511.82,219.54 512.22,219.53 512.62,219.53 513.01,219.52 513.41,219.52 513.81,219.51 514.21,219.51 514.61,219.50 515.00,219.50 515.40,219.50 515.80,219.49 516.20,219.49 516.60,219.48 516.99,219.48 517.39,219.47 517.79,219.47 518.19,219.46 518.59,219.46 518.98,219.45 519.38,219.45 519.78,219.44 520.18,219.44 520.58,219.43 520.97,219.43 521.37,219.42 521.77,219.42 522.17,219.42 522.57,219.41 522.96,219.41 523.36,219.40 523.76,219.40 524.16,219.39 524.56,219.39 524.95,219.38 525.35,219.38 525.75,219.37 526.15,219.37 526.55,219.36 526.94,219.36 527.34,219.36 527.74,219.35 528.14,219.35 528.54,219.34 528.93,219.34 529.33,219.33 529.73,219.33 530.13,219.32 530.53,219.32 530.92,219.32 531.32,219.31 531.72,219.31 532.12,219.30 532.52,219.30 532.91,219.29 533.31,219.29 533.71,219.28 534.11,219.28 534.51,219.28 534.90,219.27 535.30,219.27 535.70,219.26 536.10,219.26 536.50,219.25 536.89,219.25 537.29,219.24 537.69,219.24 538.09,219.24 538.49,219.23 538.88,219.23 539.28,219.22 539.68,219.22 540.08,219.21 540.48,219.21 540.87,219.21 541.27,219.20 541.67,219.20 542.07,219.19 542.47,219.19 542.86,219.18 543.26,219.18 543.66,219.18 544.06,219.17 544.46,219.17 544.85,219.16 545.25,219.16 545.65,219.15 546.05,219.15 546.45,219.15 546.84,219.14 547.24,219.14 547.64,219.13 548.04,219.13 548.44,219.13 548.83,219.12 549.23,219.12 549.63,219.11 550.03,219.11 550.43,219.11 550.82,219.10 551.22,219.10 551.62,219.09 552.02,219.09 552.42,219.08 552.81,219.08 553.21,219.08 553.61,219.07 554.01,219.07 554.41,219.06 554.80,219.06 555.20,219.06 555.60,219.05 556.00,219.05 556.40,219.04 556.79,219.04 557.19,219.04 557.59,219.03 557.99,219.03 558.39,219.02 558.78,219.02 559.18,219.02 559.58,219.01 559.98,219.01 560.38,219.00 560.77,219.00 561.17,219.00 561.57,218.99 561.97,218.99 562.37,218.98 562.76,218.98 563.16,218.98 563.56,218.97 563.96,218.97 564.36,218.97 564.75,218.96 565.15,218.96 565.55,218.95 565.95,218.95 566.35,218.95 566.74,218.94 567.14,218.94 567.54,218.93 567.94,218.93 568.34,218.93 568.73,218.92 569.13,218.92 569.53,218.92 569.93,218.91 570.33,218.91 570.72,218.90 571.12,218.90 571.52,218.90 571.92,218.89 572.32,218.89 572.71,218.89 573.11,218.88 573.51,218.88 573.91,218.87 574.31,218.87 574.70,218.87 575.10,218.86 575.50,218.86 575.90,218.86 576.30,218.85 576.69,218.85 577.09,218.84 577.49,218.84 577.89,218.84 578.29,218.83 578.68,218.83 579.08,218.83 579.48,218.82 579.88,218.82 580.28,218.81 580.67,218.81 581.07,218.81 581.47,218.80 581.87,218.80 582.27,218.80 582.66,218.79 583.06,218.79 583.46,218.79 583.86,218.78 584.26,218.78 584.65,218.78 585.05,218.77 585.45,218.77 585.85,218.76 586.25,218.76 586.64,218.76 587.04,218.75 587.44,218.75 587.84,218.75 588.24,218.74 588.63,218.74 589.03,218.74 589.43,218.73 589.83,218.73 590.23,218.73 590.62,218.72 591.02,218.72 591.42,218.72 591.82,218.71 592.22,218.71 592.61,218.70 593.01,218.70 593.41,218.70 593.81,218.69 594.21,218.69 594.60,218.69 595.00,218.68 595.40,218.68 595.80,218.68 596.20,218.67 596.59,218.67 596.99,218.67 597.39,218.66 597.79,218.66 598.19,218.66 598.58,218.65 598.98,218.65 599.38,218.65 599.78,218.64 600.18,218.64 600.57,218.64 600.97,218.63 601.37,218.63 601.77,218.63 602.17,218.62 602.56,218.62 602.96,218.62 603.36,218.61 603.76,218.61 604.16,218.61 604.55,218.60 604.95,218.60 605.35,218.60 605.75,218.59 606.15,218.59 606.54,218.59 606.94,218.58 607.34,218.58 607.74,218.58 608.14,218.57 608.53,218.57 608.93,218.57 609.33,218.56 609.73,218.56 610.13,218.56 610.52,218.55 610.92,218.55 611.32,218.55 611.72,218.54 612.12,218.54 612.51,218.54 612.91,218.53 613.31,218.53 613.71,218.53 614.11,218.52 614.50,218.52 614.90,218.52 615.30,218.51 615.70,218.51 616.10,218.51 616.49,218.51 616.89,218.50 617.29,218.50 617.69,218.50 618.09,218.49 618.48,218.49 618.88,218.49 619.28,218.48 619.68,218.48 620.08,218.48 620.47,218.47 620.87,218.47 621.27,218.47 621.67,218.46 622.07,218.46 622.46,218.46 622.86,218.45 623.26,218.45 623.66,218.45 624.06,218.45 624.45,218.44 624.85,218.44 625.25,218.44 625.65,218.43 626.05,218.43 626.44,218.43 626.84,218.42 627.24,218.42 627.64,218.42 628.04,218.41 628.43,218.41 628.83,218.41 629.23,218.41 629.63,218.40 630.03,218.40 630.42,218.40 630.82,218.39 631.22,218.39 631.62,218.39 632.02,218.38 632.41,218.38 632.81,218.38 633.21,218.38 633.61,218.37 634.01,218.37 634.40,218.37 634.80,218.36 635.20,218.36 635.60,218.36 636.00,218.35 636.39,218.35 636.79,218.35 637.19,218.35 637.59,218.34 637.99,218.34 638.38,218.34 638.78,218.33 639.18,218.33 639.58,218.33 639.98,218.33 640.37,218.32 640.77,218.32 641.17,218.32 641.57,218.31 641.97,218.31 642.36,218.31 642.76,218.31 643.16,218.30 643.56,218.30 643.96,218.30 644.35,218.29 644.75,218.29 645.15,218.29 645.55,218.28 645.95,218.28 646.34,218.28 646.74,218.28 647.14,218.27 647.54,218.27 647.94,218.27 648.33,218.26 648.73,218.26 649.13,218.26 649.53,218.26 649.93,218.25 650.32,218.25 650.72,218.25 651.12,218.25 651.52,218.24 651.92,218.24 652.31,218.24 652.71,218.23 653.11,218.23 653.51,218.23 653.91,218.23 654.30,218.22 654.70,218.22 655.10,218.22 655.50,218.21 655.90,218.21 656.29,218.21 656.69,218.21 657.09,218.20 657.49,218.20 657.89,218.20 658.28,218.20 658.68,218.19 659.08,218.19 659.48,218.19 659.88,218.18 660.27,218.18 660.67,218.18 661.07,218.18 661.47,218.17 661.87,218.17 662.26,218.17 662.66,218.17 663.06,218.16 663.46,218.16 663.86,218.16 664.25,218.15 664.65,218.15 665.05,218.15 665.45,218.15 665.85,218.14 666.24,218.14 666.64,218.14 667.04,218.14 667.44,218.13 667.84,218.13 668.23,218.13 668.63,218.13 669.03,218.12 669.43,218.12 669.83,218.12 670.22,218.11 670.62,218.11 671.02,218.11 671.42,218.11 671.82,218.10 672.21,218.10 672.61,218.10 673.01,218.10 673.41,218.09 673.81,218.09 674.20,218.09 674.60,218.09 675.00,218.08"/></g><g font-family="'Liberation Serif', serif"><text transform="translate(70.6,14.70) scale(1,1.07)" font-size="22" text-anchor="end" fill="#262626">1.1</text><text transform="translate(70.6,117.13) scale(1,1.07)" font-size="22" text-anchor="end" fill="#262626">1.05</text><text transform="translate(70.6,219.55) scale(1,1.07)" font-size="22" text-anchor="end" fill="#262626">1</text><text transform="translate(70.6,321.98) scale(1,1.07)" font-size="22" text-anchor="end" fill="#262626">0.95</text><text transform="translate(70.6,424.40) scale(1,1.07)" font-size="22" text-anchor="end" fill="#262626">0.9</text><text transform="translate(187.98,445.4) scale(1,1.07)" font-size="22" text-anchor="middle" fill="#262626">10</text><text transform="translate(309.73,445.4) scale(1,1.07)" font-size="22" text-anchor="middle" fill="#262626">20</text><text transform="translate(431.49,445.4) scale(1,1.07)" font-size="22" text-anchor="middle" fill="#262626">30</text><text transform="translate(553.24,445.4) scale(1,1.07)" font-size="22" text-anchor="middle" fill="#262626">40</text><text transform="translate(675.00,445.4) scale(1,1.07)" font-size="22" text-anchor="middle" fill="#262626">50</text><text x="341.60" y="474.00" font-size="25.7" font-style="italic" fill="#262626">a</text><text x="362.20" y="474.00" font-size="25.7" fill="#262626">(</text><text x="370.00" y="474.00" font-size="25.7" fill="#262626">nm</text><text x="403.80" y="474.00" font-size="25.7" fill="#262626">)</text><g transform="translate(18.75,237.5) rotate(-90)"><text x="1.25" y="0.00" font-size="25.0" font-style="italic" fill="#262626">κ</text><rect x="0" y="-14.3" width="13.75" height="1.2" fill="#262626"/><text x="15.00" y="5.60" font-size="34" fill="#262626">/</text><text x="25.60" y="0.00" font-size="25.0" font-style="italic" fill="#262626">κ</text><text x="38.80" y="3.90" font-size="16" font-style="italic" fill="#262626">c</text></g><line x1="458" y1="283.80" x2="511.3" y2="283.80" stroke="#000000" stroke-width="2"/><text transform="translate(516.00,288.40) scale(1.22,0.95)" font-size="22.4" font-style="italic" fill="#000">f</text><text transform="translate(534.30,290.15) scale(1.28,0.84)" font-size="22.4" fill="#000">=</text><text x="556.40" y="289.70" font-size="22.4" fill="#000">0</text><line x1="458" y1="310.08" x2="511.3" y2="310.08" stroke="#00ff00" stroke-width="2"/><text x="516.40" y="315.98" font-size="22.4" fill="#000">Case1,</text><text transform="translate(587.90,314.68) scale(1.22,0.95)" font-size="22.4" font-style="italic" fill="#000">f</text><text transform="translate(606.20,316.43) scale(1.28,0.84)" font-size="22.4" fill="#000">=</text><text x="628.00" y="315.98" font-size="22.4" fill="#000">0.1</text><line x1="458" y1="336.36" x2="511.3" y2="336.36" stroke="#ff0000" stroke-width="2"/><text x="516.40" y="342.26" font-size="22.4" fill="#000">Case1,</text><text transform="translate(587.90,340.96) scale(1.22,0.95)" font-size="22.4" font-style="italic" fill="#000">f</text><text transform="translate(606.20,342.71) scale(1.28,0.84)" font-size="22.4" fill="#000">=</text><text x="628.00" y="342.26" font-size="22.4" fill="#000">0.2</text><line x1="458" y1="362.64" x2="511.3" y2="362.64" stroke="#0000ff" stroke-width="2"/><text x="516.40" y="368.54" font-size="22.4" fill="#000">Case2,</text><text transform="translate(587.90,367.24) scale(1.22,0.95)" font-size="22.4" font-style="italic" fill="#000">f</text><text transform="translate(606.20,368.99) scale(1.28,0.84)" font-size="22.4" fill="#000">=</text><text x="628.00" y="368.54" font-size="22.4" fill="#000">0.1</text><line x1="458" y1="388.92" x2="511.3" y2="388.92" stroke="#ff00ff" stroke-width="2"/><text x="516.40" y="394.82" font-size="22.4" fill="#000">Case2,</text><text transform="translate(587.90,393.52) scale(1.22,0.95)" font-size="22.4" font-style="italic" fill="#000">f</text><text transform="translate(606.20,395.27) scale(1.28,0.84)" font-size="22.4" fill="#000">=</text><text x="628.00" y="394.82" font-size="22.4" fill="#000">0.2</text></g></svg>
</body></html>
